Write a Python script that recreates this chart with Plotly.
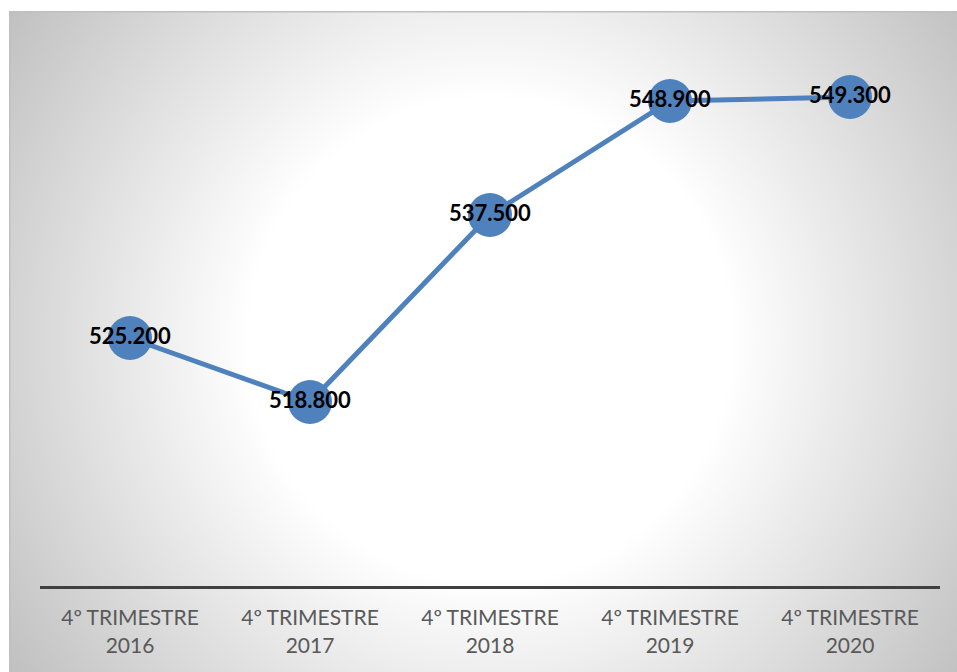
import base64
import plotly.graph_objects as go

categories = ["4º TRIMESTRE<br>2016", "4º TRIMESTRE<br>2017", "4º TRIMESTRE<br>2018",
              "4º TRIMESTRE<br>2019", "4º TRIMESTRE<br>2020"]
values = [525.2, 518.8, 537.5, 548.9, 549.3]
labels = [f"{v:.3f}" for v in values]

W, H = 957, 672
L, R, T = 40, 17, 30
B = H - 586
plot_w = W - L - R
plot_h = H - T - B

# background radial gradient (Excel-like chart area)
bx0, by0 = 9, 11
bw, bh = W - bx0 + 20, H - by0 + 20
svg = f'''<svg xmlns="http://www.w3.org/2000/svg" width="{bw}" height="{bh}" viewBox="0 0 {bw} {bh}" preserveAspectRatio="none">
<defs><radialGradient id="g" gradientUnits="userSpaceOnUse" cx="{490-bx0}" cy="{340-by0}" r="600">
<stop offset="0" stop-color="#ffffff"/><stop offset="0.4" stop-color="#ffffff"/>
<stop offset="1" stop-color="#bdbdbd"/></radialGradient></defs>
<rect x="0" y="0" width="{bw}" height="{bh}" fill="url(#g)"/>
<rect x="0.75" y="0.75" width="{bw}" height="{bh}" fill="none" stroke="#bfbfbf" stroke-width="1.5"/>
</svg>'''
src = "data:image/svg+xml;base64," + base64.b64encode(svg.encode()).decode()

fig = go.Figure()
fig.add_trace(go.Scatter(
    x=categories, y=values, mode="lines+markers+text",
    line=dict(color="#4F81BD", width=5),
    marker=dict(size=44, color="#4F81BD"),
    text=labels, textposition="middle center",
    textfont=dict(family="Lato, 'Open Sans', sans-serif", size=22, color="#000000", weight="bold"),
    cliponaxis=False, hoverinfo="skip", showlegend=False,
))

ymin = 518.8 - (586 - 402) / 10.0
ymax = 549.3 + (97 - T) / 10.0

fig.update_layout(
    width=W, height=H,
    margin=dict(l=L, r=R, t=T, b=B),
    paper_bgcolor="#ffffff", plot_bgcolor="rgba(0,0,0,0)",
    images=[dict(source=src, xref="paper", yref="paper",
                 x=(bx0 - L) / plot_w, y=1 + (T - by0) / plot_h,
                 sizex=bw / plot_w, sizey=bh / plot_h,
                 xanchor="left", yanchor="top", sizing="stretch", layer="below")],
    xaxis=dict(type="category", range=[-0.5, 4.5], showgrid=False, zeroline=False,
               showline=True, linecolor="#404040", linewidth=3,
               ticks="outside", ticklen=11, tickcolor="rgba(0,0,0,0)",
               tickfont=dict(family="Lato, 'Open Sans', sans-serif", size=21, color="#595959")),
    yaxis=dict(range=[ymin, ymax], visible=False, showgrid=False, zeroline=False),
)

fig.write_html("out.html", config={"displayModeBar": False},
               post_script="document.body.style.margin='0px';document.body.style.overflow='hidden';")
